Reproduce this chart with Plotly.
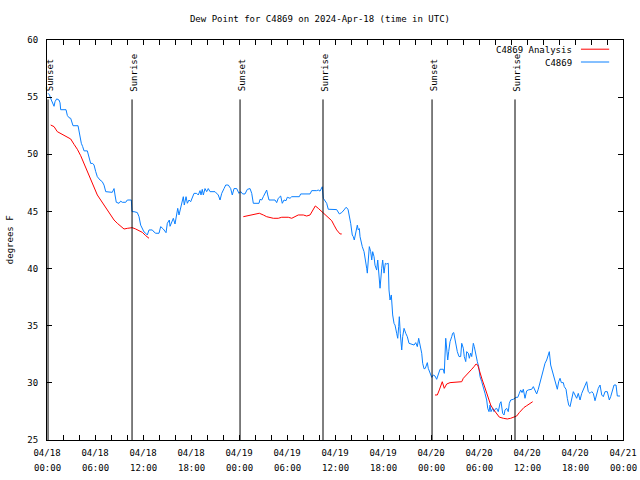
import pandas as pd
import plotly.graph_objects as go

START = pd.Timestamp("2024-04-18 00:00")

# C4869 observations: hours since 2024-04-18 00:00 UTC, dew point (F)
obs_hours = [0.13, 0.31, 0.54, 0.75, 0.88, 1.0, 1.21, 1.5, 1.63, 1.71, 2.38, 2.54, 2.75, 2.96, 3.09, 3.25,
             3.88, 4.0, 4.13, 4.29, 4.46, 4.63, 5.04, 5.16, 5.46, 5.71, 5.88, 6.09, 6.29, 6.63, 6.91, 7.13,
             7.34, 8.16, 8.38, 8.5, 8.66, 9.0, 9.21, 9.41, 9.84, 10.04, 10.54, 10.63, 10.88, 11.29, 11.5,
             11.71, 11.91, 12.13, 12.34, 12.54, 12.75, 13.16, 13.38, 13.59, 14.0, 14.21, 14.54, 14.88, 15.04,
             15.29, 15.38, 15.59, 15.79, 16.0, 16.21, 16.34, 16.5, 16.71, 16.91, 17.04, 17.16, 17.38, 17.54,
             17.75, 17.96, 18.16, 18.38, 18.71, 18.91, 19.13, 19.25, 19.41, 19.54, 19.75, 19.96, 20.16, 20.38,
             21.0, 21.21, 21.41, 21.63, 21.84, 22.13, 22.34, 22.66, 22.96, 23.16, 23.38, 23.71, 24.0, 24.21,
             24.46, 24.75, 25.04, 25.38, 25.59, 25.79, 26.5, 26.63, 26.84, 27.04, 27.25, 27.46, 27.59, 27.75,
             28.5, 28.71, 28.91, 29.21, 29.41, 29.63, 29.88, 30.04, 30.38, 30.59, 31.54, 31.71, 32.88, 33.09,
             33.71, 33.91, 34.13, 34.41, 34.54, 34.84, 34.96, 35.16, 36.21, 36.54, 36.84, 37.13, 37.38, 37.63,
             37.79, 37.96, 38.16, 38.29, 38.41, 38.59, 38.79, 38.91, 39.04, 39.13, 39.25, 39.41, 39.63, 39.75,
             39.96, 40.04, 40.16, 40.29, 40.46, 40.59, 40.71, 40.88, 41.0, 41.21, 41.34, 41.5, 41.63, 41.84,
             41.96, 42.13, 42.29, 42.46, 42.66, 42.75, 42.88, 43.04, 43.21, 43.38, 43.5, 43.71, 43.84, 43.96,
             44.04, 44.16, 44.34, 44.46, 44.63, 44.84, 45.04, 45.25, 45.59, 45.88, 46.09, 46.29, 46.46, 46.63,
             46.84, 46.96, 47.13, 47.29, 47.46, 47.54, 47.66, 47.88, 48.09, 48.29, 48.5, 48.71, 48.91, 49.13,
             49.54, 49.66, 49.84, 49.96, 50.09, 50.21, 50.38, 50.59, 50.71, 50.84, 50.96, 51.13, 51.29, 51.5,
             51.71, 51.84, 52.04, 52.16, 52.34, 52.46, 52.66, 52.79, 52.96, 53.09, 53.29, 53.41, 53.59, 53.79,
             53.96, 54.13, 54.34, 54.54, 54.75, 54.96, 55.09, 55.25, 55.38, 55.5, 55.71, 55.88, 56.0, 56.21,
             56.41, 56.63, 56.75, 56.96, 57.13, 57.25, 57.46, 57.66, 57.79, 57.96, 58.29, 58.63, 58.84, 59.04,
             59.21, 59.38, 59.54, 59.75, 59.96, 60.16, 60.59, 60.79, 61.0, 61.21, 61.41, 61.63, 61.84, 62.04,
             62.25, 62.46, 62.66, 62.79, 62.96, 63.13, 63.29, 63.46, 63.63, 63.79, 63.96, 64.13, 64.29, 64.54,
             64.66, 64.88, 65.04, 65.21, 65.38, 65.59, 65.79, 66.0, 66.21, 66.41, 66.63, 66.84, 67.04, 67.25,
             67.46, 67.66, 67.88, 68.09, 68.29, 68.5, 68.71, 68.91, 69.13, 69.34, 69.54, 69.75, 70.04, 70.29,
             70.46, 70.71, 70.88, 71.13, 71.29, 71.63]
obs_dewpt = [55.34, 55.2, 54.75, 54.3, 54.2, 54.6, 54.85, 54.75, 54.5, 53.9, 53.9, 53.4, 53.2, 53.15, 52.85, 52.5,
             52.5, 52.0, 51.4, 50.96, 50.67, 50.3, 50.3, 49.9, 49.2, 49.2, 49.06, 48.48, 48.04, 47.75, 47.6, 47.3,
             46.73, 46.67, 47.0, 46.44, 45.8, 45.71, 45.9, 45.8, 45.8, 46.0, 46.0, 44.98, 44.98, 44.9, 44.54,
             43.8, 43.46, 43.2, 43.09, 42.94, 43.38, 43.38, 43.2, 43.09, 43.09, 43.67, 43.46, 43.14, 43.96,
             44.25, 43.7, 44.1, 44.4, 43.9, 44.98, 45.27, 44.69, 45.27, 45.85, 46.29, 45.56, 46.29, 45.71,
             46.0, 45.85, 46.29, 46.58, 46.58, 46.44, 46.82, 46.44, 46.93, 46.44, 47.0, 46.73, 47.0, 46.73,
             46.73, 46.58, 46.44, 46.0, 46.58, 47.0, 47.31, 47.31, 47.0, 46.44, 47.0, 47.0, 46.58, 46.73,
             46.53, 46.53, 46.93, 47.0, 46.58, 45.71, 45.71, 46.06, 46.0, 46.29, 46.58, 46.87, 46.44, 46.0,
             46.0, 45.77, 46.15, 46.35, 45.71, 46.0, 45.94, 46.24, 46.15, 46.29, 46.29, 46.53, 46.53, 46.82,
             46.82, 46.87, 46.78, 47.16, 46.15, 45.9, 45.71, 45.19, 45.16, 44.78, 44.9, 45.13, 45.36, 45.19,
             44.69, 43.96, 42.94, 42.79, 42.5, 43.09, 43.8, 43.38, 43.5, 42.79, 42.35, 41.92, 41.48, 40.75,
             40.03, 39.6, 41.04, 41.92, 41.48, 40.75, 41.48, 41.04, 40.3, 39.87, 40.75, 39.6, 38.28, 40.03,
             40.75, 39.6, 40.46, 40.4, 40.46, 38.13, 37.25, 37.69, 35.94, 35.2, 35.06, 34.34, 33.9, 34.92,
             35.79, 34.34, 32.88, 34.04, 34.77, 34.34, 34.04, 33.46, 33.4, 33.31, 33.52, 33.17, 33.9, 33.31,
             32.59, 31.71, 31.23, 31.27, 31.71, 31.77, 31.27, 30.83, 30.48, 30.69, 30.6, 30.31, 30.83, 31.19,
             31.19, 30.83, 33.9, 33.17, 32.0, 32.73, 33.6, 34.04, 34.34, 34.4, 33.9, 33.31, 32.73, 32.3,
             32.3, 33.46, 33.03, 32.3, 31.86, 32.73, 32.6, 32.15, 32.6, 32.3, 33.46, 33.17, 32.44, 31.86,
             31.42, 30.54, 30.1, 29.67, 29.08, 28.5, 27.77, 27.48, 28.06, 27.48, 27.77, 27.48, 27.69, 27.77,
             27.48, 28.21, 28.35, 27.33, 27.19, 27.63, 27.77, 27.48, 28.21, 28.5, 28.56, 28.73, 28.73, 29.08,
             29.38, 29.15, 29.44, 28.65, 29.3, 29.38, 29.44, 29.67, 29.38, 29.03, 29.44, 29.96, 30.54, 31.13,
             31.71, 32.0, 32.44, 32.73, 31.56, 31.13, 30.69, 30.1, 29.67, 29.44, 30.1, 30.4, 30.02, 30.02,
             29.67, 29.44, 28.65, 28.06, 27.92, 28.5, 29.23, 28.94, 28.65, 29.08, 28.5, 29.08, 29.38, 29.81,
             30.1, 29.23, 29.08, 29.23, 29.08, 28.44, 29.08, 29.52, 29.81, 28.94, 28.79, 29.23, 29.23, 28.5,
             28.79, 29.38, 29.81, 29.81, 28.85, 28.85]

# C4869 Analysis, three separate runs
ana1_hours = [0.46, 0.88, 1.29, 1.91, 2.54, 2.96, 3.38, 3.79, 4.21, 4.63, 5.04, 5.46, 5.88, 6.29, 6.71, 7.13,
              7.54, 7.96, 8.38, 8.79, 9.21, 9.63, 10.04, 10.38, 10.66, 11.09, 11.5, 11.91, 12.34, 12.75]
ana1_dewpt = [52.56, 52.42, 51.98, 51.75, 51.54, 51.34, 50.87, 50.44, 49.88, 49.21, 48.48, 47.75, 47.17, 46.44,
              46.0, 45.56, 45.04, 44.69, 44.25, 43.96, 43.75, 43.46, 43.52, 43.58, 43.58, 43.46, 43.29, 43.17,
              42.88, 42.65]
ana2_hours = [24.54, 25.04, 25.59, 26.0, 26.54, 27.04, 27.46, 28.29, 28.91, 29.34, 30.16, 30.59, 31.0, 31.41,
              32.04, 32.46, 32.88, 33.21, 33.54, 33.91, 34.34, 34.75, 35.16, 35.59, 35.88, 36.21, 36.63, 36.84]
ana2_dewpt = [44.54, 44.6, 44.69, 44.78, 44.84, 44.69, 44.54, 44.4, 44.4, 44.49, 44.49, 44.4, 44.54, 44.69,
              44.69, 44.6, 44.69, 45.13, 45.48, 45.27, 44.98, 44.69, 44.4, 44.19, 43.8, 43.38, 43.03, 43.03]
ana3_hours = [48.5, 48.79, 49.04, 49.21, 49.41, 49.66, 49.96, 50.38, 50.79, 51.21, 51.63, 51.84, 52.04, 52.46,
              52.79, 53.09, 53.38, 53.63, 53.84, 54.0, 54.21, 54.41, 54.63, 54.84, 55.04, 55.25, 55.46, 55.71,
              56.0, 56.29, 56.54, 57.04, 57.54, 57.96, 58.38, 58.71, 59.04, 59.34, 59.63, 59.96, 60.38, 60.71]
ana3_dewpt = [28.94, 28.94, 29.38, 29.67, 30.1, 29.52, 29.9, 30.02, 30.05, 30.08, 30.08, 30.1, 30.4, 30.69,
              30.98, 31.19, 31.42, 31.65, 31.56, 31.13, 30.69, 30.25, 29.81, 29.38, 28.94, 28.35, 28.06, 27.77,
              27.48, 27.19, 27.0, 26.9, 26.84, 26.9, 27.05, 27.1, 27.4, 27.63, 27.85, 28.0, 28.21, 28.35]

sun_hours = [0.13, 10.63, 24.13, 34.5, 48.13, 58.5]
sun_names = ["Sunset", "Sunrise", "Sunset", "Sunrise", "Sunset", "Sunrise"]
sun_line_top = 54.8

tick_hours = [0, 6, 12, 18, 24, 30, 36, 42, 48, 54, 60, 66, 72]
tick_dates = ["04/18", "04/18", "04/18", "04/18", "04/19", "04/19", "04/19", "04/19",
              "04/20", "04/20", "04/20", "04/20", "04/21"]
tick_times = ["00:00", "06:00", "12:00", "18:00"] * 3 + ["00:00"]
y_ticks = [25, 30, 35, 40, 45, 50, 55, 60]


def to_time(hours):
    return [START + pd.Timedelta(hours=h) for h in hours]


FONT = "DejaVu Sans Mono"
RED = "#ff0000"
BLUE = "#0a80ff"

ana_x = to_time(ana1_hours) + [None] + to_time(ana2_hours) + [None] + to_time(ana3_hours)
ana_y = ana1_dewpt + [None] + ana2_dewpt + [None] + ana3_dewpt

fig = go.Figure()
fig.add_trace(go.Scatter(x=to_time(obs_hours), y=obs_dewpt, mode="lines",
                         line=dict(color=BLUE, width=1), name="C4869", hoverinfo="skip"))
fig.add_trace(go.Scatter(x=ana_x, y=ana_y, mode="lines", connectgaps=False,
                         line=dict(color=RED, width=1), name="C4869 Analysis", hoverinfo="skip"))

shapes = []
annotations = []
for h, name in zip(sun_hours, sun_names):
    t = START + pd.Timedelta(hours=h)
    shapes.append(dict(type="line", xref="x", yref="y", x0=t, x1=t, y0=25, y1=sun_line_top,
                       line=dict(color="black", width=1)))
    annotations.append(dict(x=t, y=55.3, xref="x", yref="y", text=name, textangle=-90,
                            showarrow=False, xanchor="center", yanchor="bottom", xshift=2,
                            font=dict(family=FONT, size=9, color="black")))

for h, s in zip(tick_hours, tick_times):
    annotations.append(dict(x=START + pd.Timedelta(hours=h), y=0, xref="x", yref="paper",
                            text=s, showarrow=False, xanchor="center", yanchor="middle",
                            yshift=-28, font=dict(family=FONT, size=9, color="black")))

# legend (gnuplot style: text then line sample)
legend_rows = [("C4869 Analysis", RED, 0.975), ("C4869", BLUE, 0.943)]
for text, col, yp in legend_rows:
    annotations.append(dict(x=0.915, y=yp, xref="paper", yref="paper", text=text, showarrow=False,
                            xanchor="right", yanchor="middle",
                            font=dict(family=FONT, size=9, color="black")))
    shapes.append(dict(type="line", xref="paper", yref="paper", x0=0.927, x1=0.976, y0=yp + 0.002,
                       y1=yp + 0.002, line=dict(color=col, width=1)))

annotations.append(dict(x=-0.064, y=0.5, xref="paper", yref="paper", text="degrees F", textangle=-90,
                        showarrow=False, xanchor="center", yanchor="middle",
                        font=dict(family=FONT, size=9, color="black")))

fig.update_layout(
    width=640, height=480, autosize=False,
    margin=dict(l=47, r=17, t=40, b=40, pad=0, autoexpand=False),
    paper_bgcolor="white", plot_bgcolor="white",
    showlegend=False, hovermode=False,
    title=dict(text="Dew Point for C4869 on 2024-Apr-18 (time in UTC)", x=0.5, xref="container",
               xanchor="center", y=1 - 19 / 480, yanchor="middle", yref="container",
               font=dict(family=FONT, size=9, color="black")),
    font=dict(family=FONT, size=9, color="black"),
    shapes=shapes, annotations=annotations,
    xaxis=dict(type="date", range=[START, START + pd.Timedelta(hours=72)], automargin=False,
               tickvals=to_time(tick_hours), ticktext=tick_dates,
               ticks="inside", ticklen=5, tickcolor="black", showgrid=False, zeroline=False,
               showline=True, linecolor="black", linewidth=1, mirror="allticks",
               minor=dict(dtick=2 * 3600 * 1000, ticks="inside", ticklen=5, tickcolor="black",
                          showgrid=False),
               ticklabelstandoff=4, tickfont=dict(family=FONT, size=9, color="black")),
    yaxis=dict(range=[25, 60], tickvals=y_ticks, ticks="inside", ticklen=5, tickcolor="black",
               automargin=False,
               showgrid=False, zeroline=False, showline=True, linecolor="black", linewidth=1,
               mirror="allticks", ticklabelstandoff=6, tickfont=dict(family=FONT, size=9, color="black")),
)

fig.write_html("out.html", config={"displayModeBar": False, "responsive": False},
               post_script="document.body.style.margin='0';document.body.style.overflow='hidden';")
